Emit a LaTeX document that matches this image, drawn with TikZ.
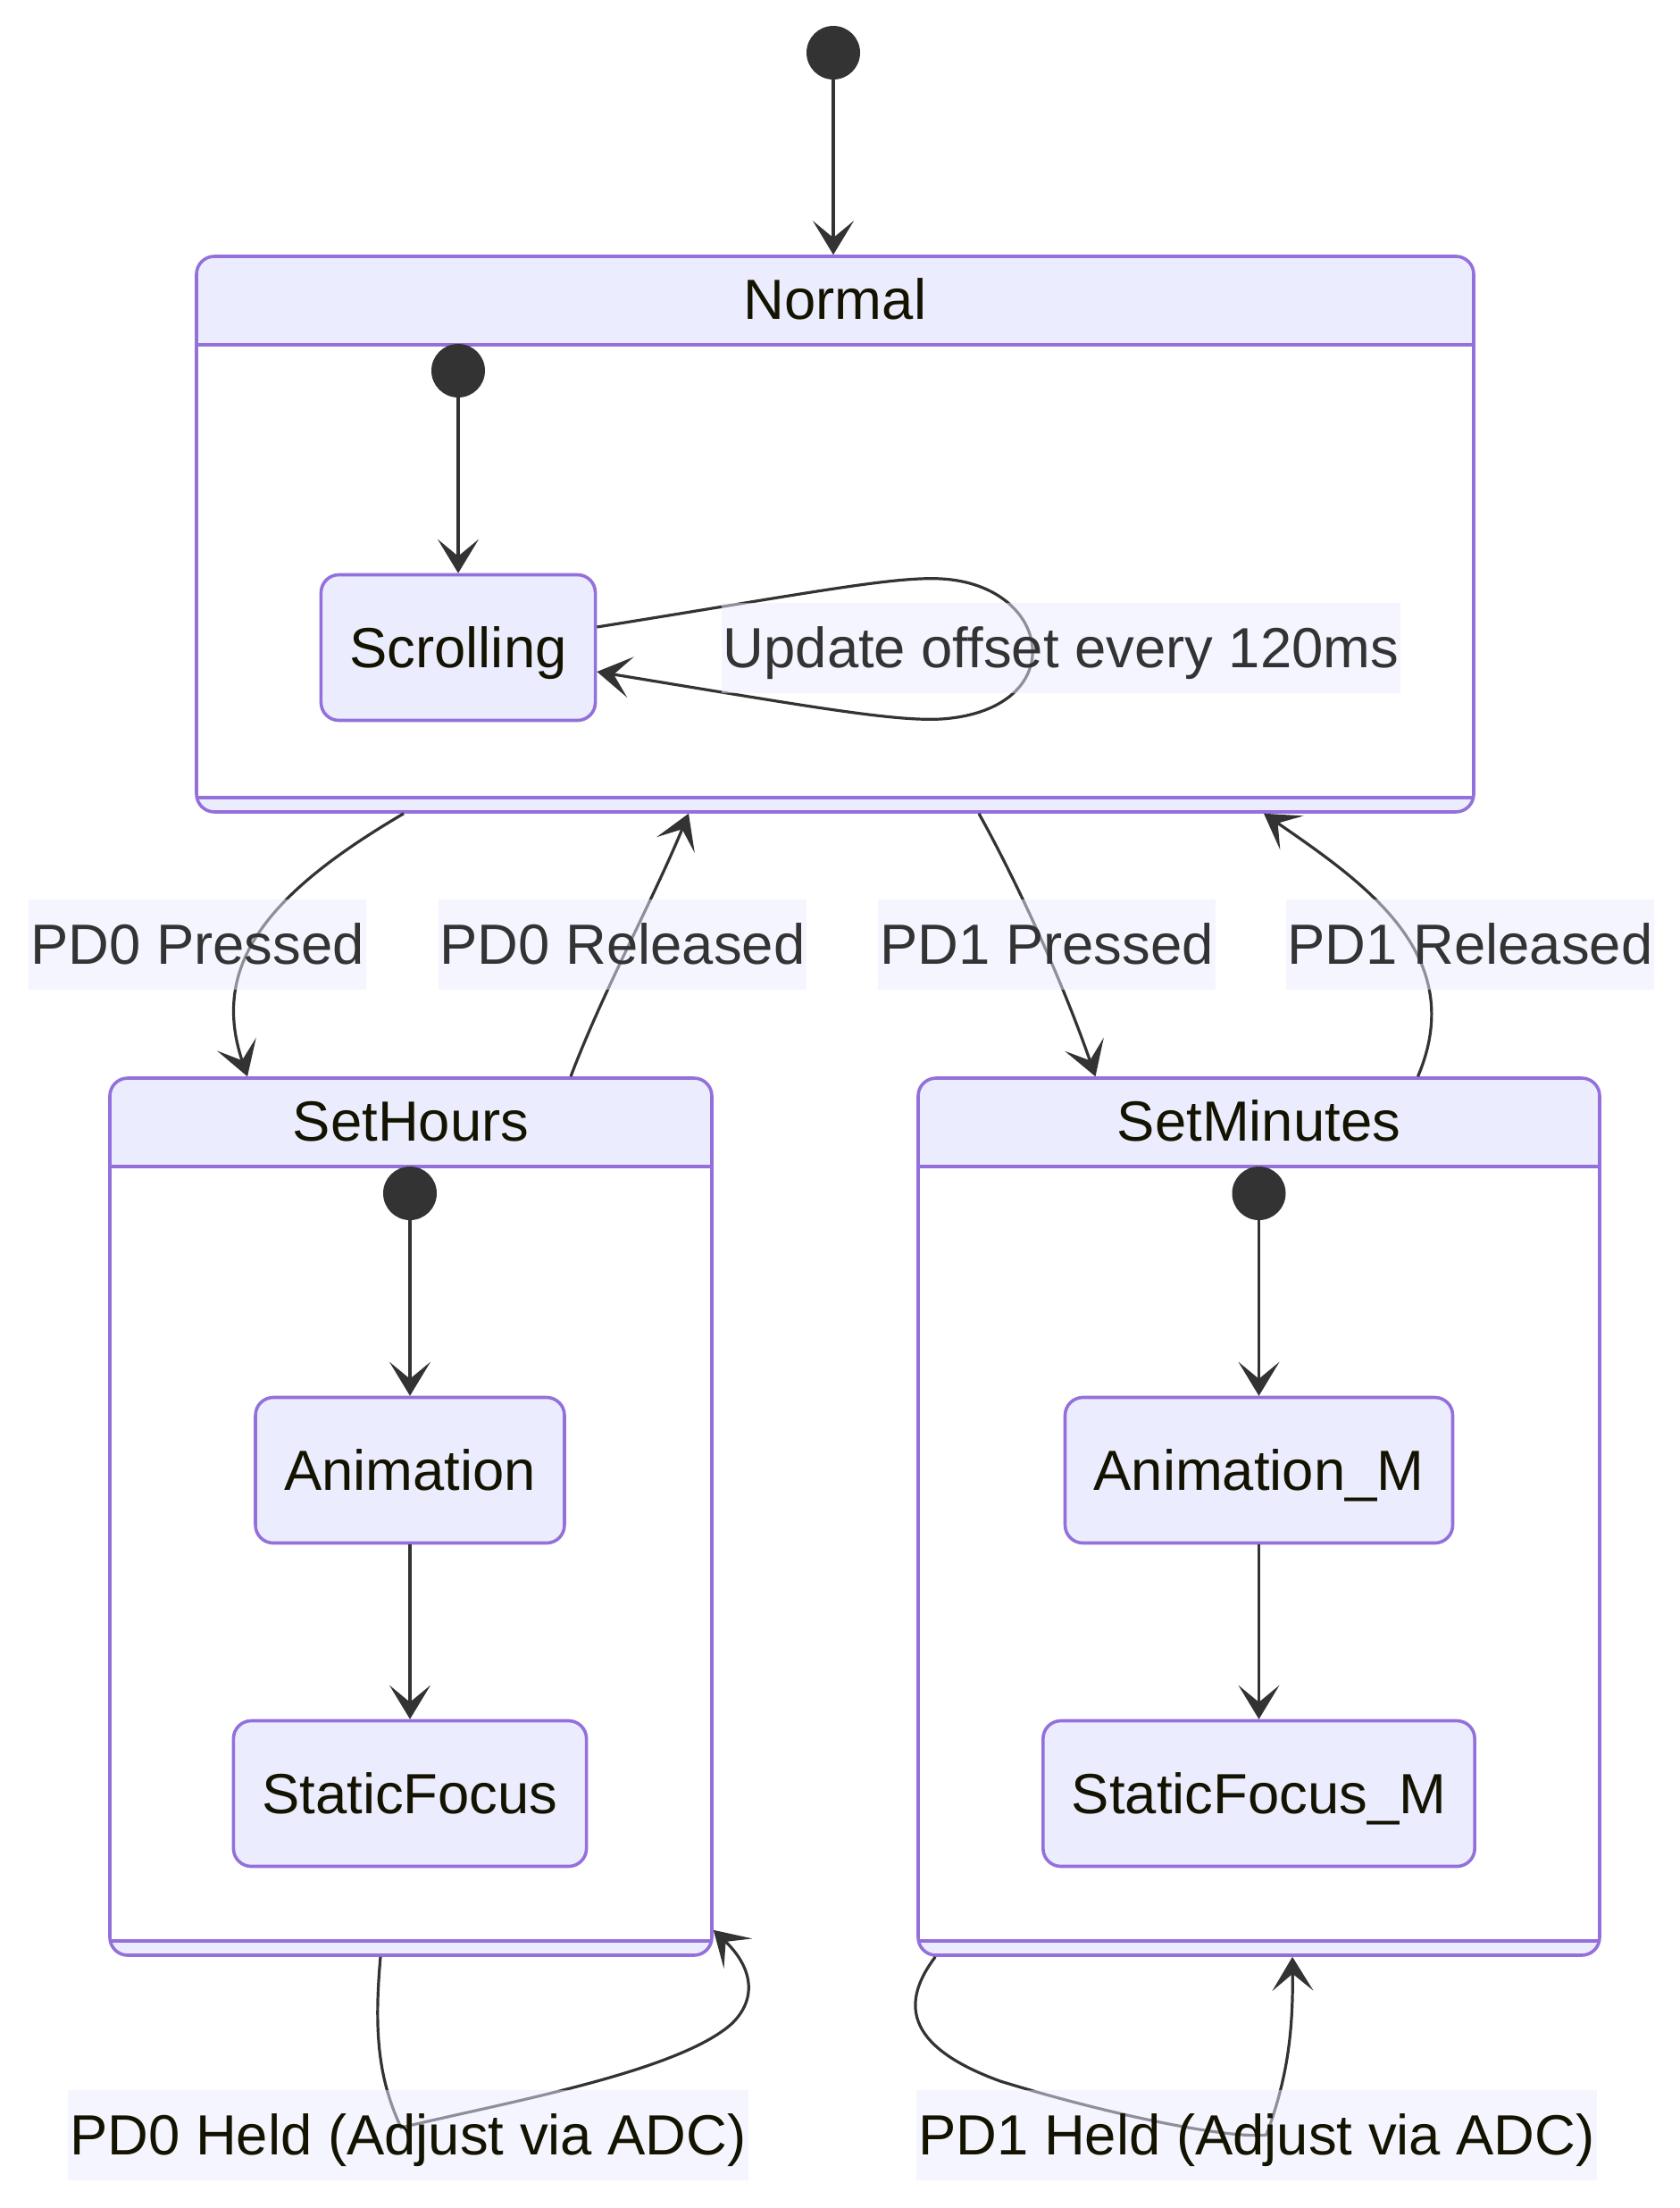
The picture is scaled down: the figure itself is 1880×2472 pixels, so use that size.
\documentclass[tikz,border=0pt]{standalone}
\usepackage{fontspec}
\setmainfont{Liberation Sans}
\usetikzlibrary{arrows.meta}
\definecolor{ink}{HTML}{333333}
\definecolor{titleink}{HTML}{131300}
\definecolor{stfill}{HTML}{ECECFF}
\definecolor{stline}{HTML}{9370DB}

\begin{document}
\begin{tikzpicture}[x=0.5pt,y=-0.5pt,
  txt/.style={font=\fontsize{31.7}{38}\selectfont,text height=29pt,text depth=6.5pt},
  st/.style={txt,rectangle,rounded corners=10pt,fill=stfill,draw=stline,line width=1.8pt,
    minimum height=81.5pt,inner xsep=16pt,text=titleink},
  cst/.style={rectangle,rounded corners=10pt,fill=white,draw=stline,line width=1.8pt,inner sep=0pt,
    path picture={
      \fill[stfill,sharp corners] (path picture bounding box.north west) rectangle ([yshift=-49.5pt]path picture bounding box.north east);
      \fill[stfill,sharp corners] (path picture bounding box.south west) rectangle ([yshift=8pt]path picture bounding box.south east);
      \draw[stline,line width=1.8pt,sharp corners] ([yshift=-49.5pt]path picture bounding box.north west) -- ([yshift=-49.5pt]path picture bounding box.north east);
      \draw[stline,line width=1.8pt,sharp corners] ([yshift=8pt]path picture bounding box.south west) -- ([yshift=8pt]path picture bounding box.south east);
    }},
  ttl/.style={txt,text=titleink},
  ini/.style={circle,fill=ink,minimum size=30pt,inner sep=0pt},
  lbl/.style={txt,fill=stfill,fill opacity=0.5,text opacity=1,text=ink,inner xsep=1pt,inner ysep=0pt,minimum height=50.5pt},
  arr/.style={-{Stealth[length=19pt,width=23pt,inset=9.5pt]},line width=1.6pt,color=ink},
]
  \useasboundingbox (0,0) rectangle (1880,2472);
  \fill[white] (0,0) rectangle (1880,2472);

  % composite states
  \node[cst,minimum width=715pt,minimum height=311pt] (normal) at (935,598) {};
  \node[ttl] (normalttl) at ([yshift=-24.75pt]normal.north) {Normal};
  \node[cst,minimum width=337pt,minimum height=491pt] (hours) at (460,1698) {};
  \node[ttl] (hoursttl) at ([yshift=-24.75pt]hours.north) {SetHours};
  \node[cst,minimum width=381.5pt,minimum height=491pt] (mins) at (1409.5,1698) {};
  \node[ttl] (minsttl) at ([yshift=-24.75pt]mins.north) {SetMinutes};

  % inner states
  \node[ini] (s0) at (933,59) {};
  \node[ini] (ns0) at (513,415) {};
  \node[st] (scroll) at (513,725) {Scrolling};
  \node[ini] (hs0) at (459,1336) {};
  \node[st] (anim) at (459,1646) {Animation};
  \node[st] (stat) at (459,2008) {StaticFocus};
  \node[ini] (ms0) at (1409.5,1336) {};
  \node[st] (animm) at (1409.5,1646) {Animation\_M};
  \node[st] (statm) at (1409.5,2008) {StaticFocus\_M};

  \draw[arr] (s0) -- (s0 |- normal.north);
  \draw[arr] (ns0) -- (scroll);
  \draw[arr] (hs0) -- (anim);
  \draw[arr] (anim) -- (stat);
  \draw[arr] (ms0) -- (animm);
  \draw[arr] (animm) -- (statm);

  % self loop
  \draw[arr] ([yshift=11.5pt]scroll.east) .. controls (900,665) and (1000,645) .. (1054,648)
    .. controls (1180,655) and (1200,795) .. (1054,805)
    .. controls (1000,808) and (900,790) .. ([yshift=-13.5pt]scroll.east);

  % transitions between composites
  \draw[arr] ([xshift=-241.5pt]normal.south) .. controls (300,1000) and (235,1080) .. ([xshift=-91.5pt]hours.north);
  \draw[arr] ([xshift=89.5pt]hours.north) .. controls (675,1110) and (730,1010) .. ([xshift=-82pt]normal.south);
  \draw[arr] ([xshift=80.5pt]normal.south) .. controls (1140,990) and (1190,1100) .. ([xshift=-91.5pt]mins.north);
  \draw[arr] ([xshift=89pt]mins.north) .. controls (1645,1070) and (1530,990) .. ([xshift=240pt]normal.south);
  \draw[arr] ([xshift=-17pt]hours.south) .. controls (418,2280) and (425,2330) .. (449,2382)
    .. controls (560,2355) and (760,2320) .. (820,2265)
    .. controls (850,2235) and (840,2200) .. ([yshift=15pt]hours.south east);
  \draw[arr] ([xshift=10.5pt]mins.south west) .. controls (1010,2240) and (1010,2290) .. (1120,2330)
    .. controls (1250,2370) and (1380,2395) .. (1418,2390)
    .. controls (1440,2330) and (1448,2280) .. ([xshift=18.75pt]mins.south);

  % edge labels
  \node[lbl] (updlbl) at (1188,725) {Update offset every 120ms};
  \node[lbl] (p0lbl) at (221,1057) {PD0 Pressed};
  \node[lbl] (r0lbl) at (697,1057) {PD0 Released};
  \node[lbl] (p1lbl) at (1172,1057) {PD1 Pressed};
  \node[lbl] (r1lbl) at (1646,1057) {PD1 Released};
  \node[lbl,text=titleink] (h0lbl) at (457,2390) {PD0 Held (Adjust via ADC)};
  \node[lbl,text=titleink] (h1lbl) at (1407,2390) {PD1 Held (Adjust via ADC)};
\end{tikzpicture}
\end{document}
